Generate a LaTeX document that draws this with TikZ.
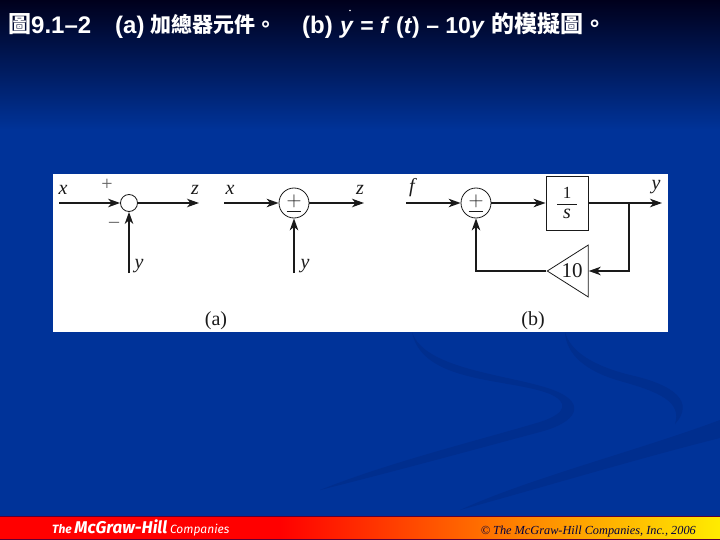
\documentclass[tikz,border=0pt]{standalone}
\usepackage{fontspec}
\setmainfont{Liberation Serif}
\newfontfamily\hd{Liberation Sans}
\newfontfamily\cjk{Noto Sans CJK TC}
\newfontfamily\logo{Fira Sans}
\usetikzlibrary{arrows.meta,shapes.geometric,calc}
\definecolor{bgblue}{HTML}{003399}
\definecolor{topnavy}{HTML}{00001C}
\definecolor{swoosh}{HTML}{002E8E}
\definecolor{ink}{HTML}{1A1A1A}
\tikzset{
 wire/.style={draw=ink,line width=1.4pt},
 arr/.style={wire,-{Stealth[length=12pt,width=8.5pt,inset=3.5pt]}},
 sumsmall/.style={circle,draw=ink,line width=.8pt,minimum size=17pt,inner sep=0pt},
 sumbig/.style={circle,draw=ink,line width=.8pt,minimum size=30pt,inner sep=0pt,font=\fontsize{22}{22}\selectfont,text=ink},
 lab/.style={font=\fontsize{20}{20}\selectfont\itshape,text=ink,inner sep=0pt},
 num/.style={font=\fontsize{21}{21}\selectfont,text=ink,inner sep=0pt},
 numsmall/.style={font=\fontsize{17}{17}\selectfont,text=ink,inner sep=0pt},
 signtext/.style={font=\fontsize{20}{20}\selectfont,text=ink!70,inner sep=0pt},
 captext/.style={font=\fontsize{20}{20}\selectfont,text=ink,inner sep=0pt},
 headtext/.style={text=white,inner sep=0pt,anchor=base west,font=\hd\bfseries\fontsize{24}{24}\selectfont},
 headeq/.style={text=white,inner sep=0pt,anchor=base west,font=\hd\bfseries\fontsize{23}{23}\selectfont},
 headcjk/.style={text=white,inner sep=0pt,anchor=base west,font=\cjk\bfseries\fontsize{21}{21}\selectfont},
 headcjkb/.style={text=white,inner sep=0pt,anchor=base west,font=\cjk\bfseries\fontsize{23}{23}\selectfont},
}
\newcommand{\sumsign}{\underline{\raisebox{3pt}{$+$}}}
\begin{document}
\begin{tikzpicture}[x=1pt,y=-1pt]
\useasboundingbox (0,0) rectangle (720,540);
% background
\fill[bgblue] (0,0) rectangle (720,540);
\shade[top color=topnavy,bottom color=bgblue,shading angle=0] (0,0) rectangle (720,130);
% swooshes
\fill[swoosh] (412,332) .. controls (425,372) and (520,375) .. (558,392) .. controls (585,404) and (578,422) .. (540,432) .. controls (480,448) and (400,470) .. (320,490) .. controls (390,462) and (480,440) .. (540,422) .. controls (568,413) and (568,402) .. (550,394) .. controls (510,378) and (422,384) .. (412,332) -- cycle;
\fill[swoosh] (565,332) .. controls (570,350) and (590,365) .. (630,375) .. controls (675,385) and (695,402) .. (675,424) .. controls (682,402) and (660,392) .. (620,381) .. controls (585,371) and (566,354) .. (565,332) -- cycle;
\fill[swoosh] (720,420) -- (720,438) .. controls (640,458) and (540,488) .. (460,510) .. controls (530,478) and (640,450) .. (720,420) -- cycle;
% bottom band
\fill[black!55!red!80!blue] (0,516) rectangle (720,540);
\shade[left color=red,right color=red,middle color=red] (0,517.5) rectangle (280,538);
\shade[left color=red,right color=orange!95!red] (280,517.5) rectangle (500,538);
\shade[left color=orange!95!red,right color=yellow!85!orange] (500,517.5) rectangle (720,538);
\node[anchor=base west,inner sep=0pt,text=white,font=\logo\bfseries\itshape\fontsize{12}{12}\selectfont] (brand) at (52,533) {The {\fontsize{17}{17}\selectfont McGraw-Hill} \textmd{Companies}};
\node[anchor=base east,inner sep=0pt,text=black!75!blue,font=\itshape\fontsize{12.3}{12}\selectfont] (copy) at (696,534) {© The McGraw-Hill Companies, Inc., 2006};
% title
\node[headcjkb] (t0) at (8,33) {圖};
\node[headtext] (t1) at (31,34) {9.1–2};
\node[headtext] (t2) at (115,34) {(a)};
\node[headcjk] (t2c) at (150,33) {加總器元件。};
\node[headtext] (t3) at (302,34) {(b)};
\node[headeq] (t3b) at (340,34) {\textit{y} = \textit{f} (\textit{t}) – 10\textit{y}};
\node[headcjkb] (t4) at (491,33) {的模擬圖。};
\fill[white] (350,10.5) circle (.9);
% panel
\fill[white] (53,174) rectangle (668,332);
% (a) left
\coordinate (ax1) at (59,203);
\coordinate (az1) at (199,203);
\coordinate (ay1) at (129,273);
\node[sumsmall] (s1) at (129,203) {};
\draw[arr] (ax1) -- (s1.west);
\draw[arr] (s1.east) -- (az1);
\draw[arr] (ay1) -- (s1.south);
\node[lab] (lx1) at (63,190) {x};
\node[lab] (lz1) at (195,190) {z};
\node[lab] (ly1) at (139,266) {y};
\node[signtext] (sp1) at (107,185) {+};
\node[signtext] (sm1) at (114,225) {–};
% (a) right
\coordinate (ax2) at (224,203);
\coordinate (az2) at (364,203);
\coordinate (ay2) at (294,273);
\node[sumbig] (s2) at (294,203) {\sumsign};
\draw[arr] (ax2) -- (s2.west);
\draw[arr] (s2.east) -- (az2);
\draw[arr] (ay2) -- (s2.south);
\node[lab] (lx2) at (230,190) {x};
\node[lab] (lz2) at (360,190) {z};
\node[lab] (ly2) at (305,266) {y};
\node[captext] (ca) at (216,321) {(a)};
% (b)
\coordinate (fin) at (406,203);
\coordinate (yout) at (662,203);
\coordinate (junc) at (629,203);
\node[sumbig] (s3) at (476,203) {\sumsign};
\node[draw=ink,line width=.9pt,minimum width=42pt,minimum height=54pt,inner sep=0pt] (int) at (567,203) {};
\node[isosceles triangle,shape border rotate=180,isosceles triangle stretches,draw=ink,line width=.8pt,minimum width=52pt,minimum height=41pt,inner sep=0pt] (gain) at (574,271) {};
\node[num] (gv) at (572,271) {10};
\node[numsmall] (n1) at (567,193) {1};
\node[lab] (n2) at (567,214) {s};
\draw[ink,line width=.9pt] (557,204) -- (577,204);
\draw[arr] (fin) -- (s3.west);
\draw[arr] (s3.east) -- (int.west);
\draw[arr] (int.east) -- (yout);
\draw[arr] (junc) |- (gain.east);
\draw[arr] (gain.west) -| (s3.south);
\node[lab] (lf) at (412,188) {f};
\node[lab] (ly3) at (656,187) {y};
\node[captext] (cb) at (533,321) {(b)};
\end{tikzpicture}
\end{document}
